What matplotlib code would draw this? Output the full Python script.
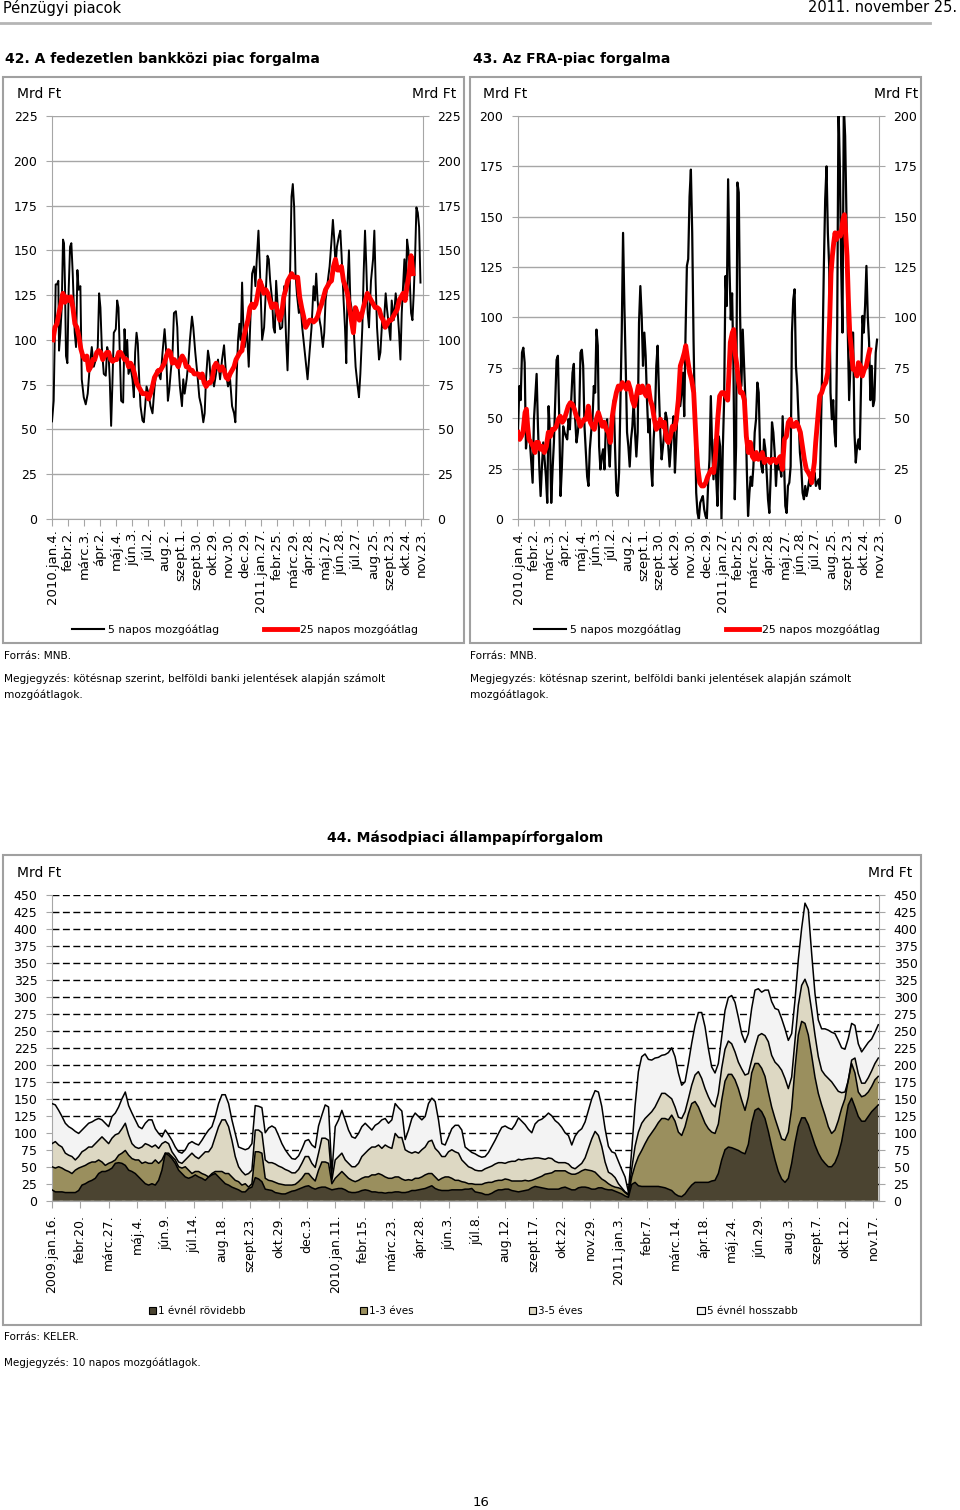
import numpy as np
import matplotlib
matplotlib.use("Agg")
import matplotlib.pyplot as plt
from matplotlib.lines import Line2D
from matplotlib.patches import Patch, Rectangle

plt.rcParams["font.family"] = ["DejaVu Sans"]

W, H = 960, 1510
GREY = "#a6a6a6"

# --- 42. fedezetlen bankközi piac (Mrd Ft) ---
napok_42 = ["2010.jan.4.", "febr.2.", "márc.3.", "ápr.2.", "máj.4.", "jún.3.", "júl.2.",
            "aug.2.", "szept.1.", "szept.30.", "okt.29.", "nov.30.", "dec.29.", "2011.jan.27.",
            "febr.25.", "márc.29.", "ápr.28.", "máj.27.", "jún.28.", "júl.27.", "aug.25.",
            "szept.23.", "okt.24.", "nov.23."]
napok_43 = list(napok_42)

# business-day index of each 5-day MA reading
nap_42_5 = [0, 2.2, 3.5, 4.8, 6.6, 8.3, 9.2, 10.9, 12.7, 14.4,
            15.7, 17, 18.3, 20.1, 21.8, 23.6, 25.3, 27.1, 29.7, 31.4,
            33.2, 34.9, 37.1, 38.9, 41.5, 44.1, 46.7, 49.3, 52, 54.6,
            57.2, 59.8, 61.6, 63.3, 65.1, 67.7, 70.3, 72.1, 73.8, 75.5,
            77.3, 79, 80.8, 83.4, 85.2, 86.9, 88.6, 90.4, 93, 94.8,
            96.5, 98.3, 100, 102.6, 105.2, 107, 108.7, 110.5, 112.2, 114,
            115.7, 118.3, 120.1, 121.8, 123.6, 126.2, 128.8, 131.4, 134.1, 136.7,
            139.3, 141.9, 144.5, 147.2, 148.9, 151.5, 153.3, 155, 157.6, 159.4,
            162, 163.8, 165.5, 167.2, 169.9, 171.6, 173.4, 176, 178.6, 180.3,
            183, 184.7, 187.3, 190, 192.6, 195.2, 197.8, 199.6, 201.3, 203.9,
            205.7, 207.4, 209.2, 211.8, 214.4, 217, 219.7, 222.3, 224.9, 227.5,
            230.1, 232.8, 235.4, 238, 239.7, 241.5, 243.2, 245, 246.7, 248.5,
            250.2, 252, 254.6, 257.2, 259, 261.6, 264.2, 265.9, 267.7, 269.9,
            272, 274.7, 277.3, 279.9, 281.7, 283.4, 285.2, 287.8, 289.5, 291.3,
            293, 295.6, 298.3, 300.9, 303.5, 306.1, 307.9, 309.6, 311.4, 313.1,
            314.8, 316.6, 318.3, 320.1, 322.7, 325.3, 327.1, 329.7, 332.3, 334.1,
            336.7, 339.3, 341.9, 343.7, 345.4, 347.2, 349.8, 351.5, 354.1, 355.9,
            357.6, 360.3, 362.9, 365.5, 367.2, 369, 370.7, 372.5, 375.1, 376.9,
            378.6, 381.2, 383, 384.7, 386.5, 388.2, 390, 392.6, 394.3, 396.9,
            399.6, 401.3, 403.1, 405.7, 407.4, 409.2, 410.9, 412.7, 414.4, 417,
            419.7, 421.4, 423.1, 424.9, 427.5, 429.3, 431.9, 433.6, 436.2, 438,
            440.6, 442.4, 444.1, 446.7, 449.3, 452, 453.7, 455.5, 457.2, 459,
            460.7, 462.4, 464.2, 465.9, 467.7, 469.4, 471.2, 472.9, 474.7, 476.4,
            478.2, 479.9, 481.7]
bankkozi_5 = [54.5, 66, 100, 131, 131, 133, 94, 104, 118, 156,
              154, 130, 91, 87, 128, 152, 154, 137, 104, 96,
              139, 128, 130, 78, 68, 64, 70, 85, 96, 85,
              89, 96, 126, 118, 96, 81, 80, 96, 93, 78,
              52, 76, 104, 106, 122, 118, 93, 66, 65, 106,
              91, 100, 81, 85, 78, 68, 93, 104, 98, 78,
              63, 55, 54, 63, 74, 70, 63, 59, 74, 83,
              81, 78, 93, 106, 96, 66, 72, 81, 93, 115,
              116, 107, 85, 74, 63, 78, 70, 78, 89, 100,
              113, 107, 93, 81, 68, 63, 54, 59, 78, 94,
              89, 78, 81, 74, 81, 89, 78, 89, 97, 81,
              74, 78, 63, 59, 54, 81, 100, 109, 100, 132,
              107, 96, 107, 85, 107, 137, 141, 130, 145, 161,
              137, 100, 107, 130, 147, 145, 133, 122, 107, 104,
              133, 115, 106, 107, 130, 100, 83, 107, 141, 180,
              187, 174, 137, 126, 115, 118, 107, 96, 85, 78,
              93, 107, 130, 122, 137, 122, 111, 107, 96, 104,
              122, 132, 141, 156, 167, 156, 141, 152, 158, 161,
              147, 122, 107, 87, 133, 150, 122, 115, 107, 85,
              74, 68, 81, 107, 137, 161, 141, 115, 107, 133,
              145, 161, 132, 107, 89, 93, 113, 107, 126, 117,
              107, 100, 122, 111, 126, 115, 104, 89, 115, 130,
              145, 126, 156, 150, 133, 115, 111, 126, 147, 174,
              171, 163, 132]
bankkozi_25 = [100, 107, 109, 115, 120, 126, 121, 124, 122, 124,
               118, 109, 107, 102, 95, 91, 89, 91, 83, 85,
               89, 89, 93, 94, 93, 89, 91, 93, 93, 89,
               88, 89, 89, 93, 93, 91, 89, 89, 85, 87,
               85, 81, 76, 74, 72, 70, 70, 70, 67, 70,
               74, 79, 81, 83, 83, 85, 87, 91, 94, 93,
               87, 89, 87, 85, 89, 91, 89, 85, 85, 83,
               83, 81, 81, 81, 79, 81, 76, 74, 76, 76,
               78, 85, 87, 85, 83, 85, 83, 79, 78, 81,
               83, 85, 89, 91, 93, 94, 102, 107, 111, 118,
               120, 118, 120, 126, 133, 130, 126, 128, 126, 122,
               118, 120, 120, 115, 111, 115, 124, 128, 133, 135,
               137, 135, 135, 135, 124, 118, 113, 107, 109, 111,
               111, 110, 111, 113, 117, 120, 124, 128, 130, 132,
               133, 141, 145, 139, 139, 141, 133, 130, 126, 118,
               111, 104, 118, 115, 111, 113, 118, 122, 126, 124,
               122, 120, 118, 118, 117, 113, 111, 107, 109, 111,
               111, 113, 115, 117, 122, 124, 126, 122, 130, 137,
               147, 137]

# --- 43. FRA-piac (Mrd Ft) ---
fra_5 = [44.5, 66, 59, 82.6, 85, 77.6, 35, 43, 39.5, 38,
         28, 18, 49.5, 61, 72, 46, 26, 11.4, 26, 38,
         29.6, 21, 8, 56, 43, 8, 24.6, 38, 59, 79,
         81, 51, 11.4, 26, 46, 43, 41, 39.5, 49.5, 44.5,
         59, 72.6, 77, 49.5, 38, 43, 51, 82.6, 84, 76,
         46, 33, 21, 16.4, 34.6, 43, 49.5, 66, 62.7, 94,
         86, 36, 24.6, 31, 34.6, 24.6, 44.5, 49.5, 36, 26,
         43, 51, 59, 34.6, 13, 11.4, 23, 59, 92.5, 142,
         105.7, 76, 43, 36, 26, 39.5, 46, 59, 43, 31,
         43, 97.5, 115.6, 100.8, 76, 92.5, 81, 59, 43, 49.5,
         26, 16.4, 39.5, 51, 76, 86, 62.7, 43, 29.6, 36,
         43, 52.8, 49.5, 36, 26, 36, 44.5, 51, 23, 38,
         56, 62.7, 56, 62.7, 72.6, 51, 92.5, 125.6, 129, 160,
         173.4, 142, 89, 49.5, 13, 3, 0, 8, 9.8, 11.4,
         4.8, 1.5, 0, 18, 29.6, 61, 34.6, 19.7, 39.5, 21,
         6.5, 41, 36, 0, 34.6, 59, 120.6, 105.7, 168.6, 125.6,
         99, 112, 76, 9.8, 36, 167, 162, 102, 66, 94,
         76, 59, 26, 1.5, 13, 21, 16.4, 26, 43, 49.5,
         67.7, 62.7, 34.6, 26, 23, 39.5, 34.6, 23, 9.8, 3,
         21, 48, 43, 33, 16.4, 29.6, 24.6, 26, 21, 51,
         29.6, 6.5, 3, 16.4, 18, 26, 92.5, 109, 114, 76,
         66, 49.5, 33, 26, 13, 9.8, 16.4, 11.4, 14.9, 19.7,
         16.4, 21, 19.7, 23, 16.4, 18, 19.7, 14.9, 51, 84,
         125.6, 158.7, 175, 142, 125.6, 62.7, 49.5, 59, 43, 36,
         92.5, 205, 175, 125.6, 92.5, 205, 190, 150, 92.5, 59,
         76, 92.5, 92.5, 43, 28, 36, 39.5, 34.6, 69, 100.8,
         92.5, 105.7, 125.6, 100.8, 87.7, 59, 76, 56, 59, 82.6,
         89]
nap_43_25 = [0, 2.2, 4.5, 6.7, 9.4, 11.2, 12.9, 14.7, 17.4, 20.1,
             22.7, 24.5, 27.2, 29.9, 32.6, 35.2, 37.9, 40.6, 43.3, 45.9,
             48.6, 51.3, 54, 56.6, 59.3, 62, 64.7, 67.3, 70, 72.7,
             75.4, 78.1, 80.7, 83.4, 86.1, 88.8, 91.4, 94.1, 96.8, 99.5,
             102.1, 104.8, 107.5, 110.2, 112.8, 115.5, 118.2, 120.9, 123.5, 126.2,
             128.9, 131.6, 134.3, 136.9, 139.6, 142.3, 145, 147.6, 150.3, 153,
             155.7, 158.3, 161, 163.7, 166.4, 169, 171.7, 174.4, 177.1, 179.7,
             182.4, 185.1, 187.8, 190.5, 193.1, 195.8, 198.5, 201.2, 203.8, 206.5,
             209.2, 211.9, 214.5, 217.2, 219.9, 222.6, 224.4, 227, 229.7, 232.4,
             235.1, 236.8, 238.6, 240.4, 243.1, 245.8, 248.4, 251.1, 253.8, 256.5,
             259.1, 261.8, 264.5, 267.2, 269.8, 272.5, 275.2, 277.9, 280.6, 282.3,
             284.1, 286.8, 288.6, 290.4, 293, 294.8, 297.5, 300.2, 302.9, 305.5,
             308.2, 310.9, 313.6, 316.2, 318.9, 321.6, 324.3, 326.9, 329.6, 332.3,
             335, 337.6, 340.3, 343, 345.7, 348.3, 351, 353.7, 356.4, 359.1,
             361.7, 364.4, 367.1, 369.8, 372.4, 375.1, 377.8, 380.5, 383.1, 385.8,
             388.5, 391.2, 392.9, 394.7, 396.5, 398.3, 401, 403.7, 406.3, 409,
             411.7, 414.4, 417, 418.8, 420.6, 422.4, 424.2, 426, 428.6, 431.3,
             433.1, 434.9, 436.7, 438.4, 440.2, 442, 443.8, 446.5, 448.2, 450.9,
             453.6, 455.4, 458.1, 460.7, 463.4, 466.1, 468.8, 470.6]
fra_25 = [43, 39.5, 41, 43, 52.8, 54.5, 46, 39.5, 38, 36,
          33, 38, 38, 34.6, 36, 33, 36, 43, 41, 44.5,
          44.5, 46, 49.5, 51, 48, 49.5, 52.8, 56, 57.7, 57,
          54.5, 51, 49.5, 46, 48, 49.5, 49.5, 56, 48, 46,
          44.5, 49.5, 52.8, 49.5, 46, 48, 44.5, 43, 38, 51,
          57.7, 62.7, 66, 64.4, 67.7, 66, 64.4, 67.7, 64.4, 59,
          56, 61, 66, 62.7, 66, 62.7, 61, 66, 59, 56,
          49.5, 44.5, 46, 49.5, 46, 48, 39.5, 38, 41, 46,
          44.5, 49.5, 59, 76, 79, 82.6, 86, 79, 72.6, 69,
          62.7, 49.5, 36, 26, 18, 16.4, 16.4, 18, 21, 23,
          24.6, 23, 33, 49.5, 61, 62.7, 62.7, 61, 59, 72.6,
          87.7, 92.5, 94, 82.6, 76, 69, 62.7, 62.7, 59, 41,
          33, 38, 31, 29.6, 33, 29.6, 31, 33, 28, 29.6,
          29.6, 28, 29.6, 29.6, 28, 29.6, 31, 24.6, 39.5, 41,
          48, 49.5, 46, 46, 48, 46, 43, 36, 29.6, 24.6,
          23, 21, 18, 23, 28, 38, 49.5, 61, 62.7, 66,
          67.7, 72.6, 99, 122, 130.5, 137, 142, 138.7, 142, 140.4,
          144, 148.8, 151, 142, 130.5, 109, 92.5, 82.6, 74.3, 74.3,
          71, 77.6, 76, 71, 74.3, 76, 81, 84]

# --- 44. másodpiaci állampapírforgalom, cumulative levels (Mrd Ft) ---
datumok_44 = ["2009.jan.16.", "febr.20.", "márc.27.", "máj.4.", "jún.9.", "júl.14.", "aug.18.",
              "szept.23.", "okt.29.", "dec.3.", "2010.jan.11.", "febr.15.", "márc.23.", "ápr.28.",
              "jún.3.", "júl.8.", "aug.12.", "szept.17.", "okt.22.", "nov.29.", "2011.jan.3.",
              "febr.7.", "márc.14.", "ápr.18.", "máj.24.", "jún.29.", "aug.3.", "szept.7.",
              "okt.12.", "nov.17."]
szint_1ev = [16, 13, 13, 13, 12, 12, 12, 12, 15, 23, 25, 28, 30, 33, 40, 43, 43, 45, 48, 55,
             56, 55, 52, 45, 43, 40, 35, 30, 25, 23, 25, 23, 30, 45, 70, 67, 62, 55, 45, 40,
             35, 33, 35, 38, 35, 33, 30, 35, 38, 40, 35, 30, 25, 23, 20, 18, 16, 13, 13, 18,
             20, 34, 32, 28,
             17, 16, 15, 12, 11, 10, 10, 12, 14, 15, 17, 19, 21, 22, 19, 17, 19, 20, 20, 18,
             16, 17, 18, 18, 16, 13, 12, 12, 13, 15, 16, 15, 13, 13, 12, 12, 11, 12, 12, 13,
             13, 12, 12, 13, 15, 15, 16, 17, 18, 20, 22, 18, 16, 15, 15, 15, 16, 16, 16, 16,
             17, 17, 18,
             13, 12, 11, 9, 9, 11, 14, 16, 16, 17, 17, 15, 14, 13, 14, 15, 16, 19, 21, 20,
             19, 18, 17, 17, 17, 17, 19, 20, 18, 16, 16, 19, 20, 20, 19, 17, 17, 19, 19, 17,
             16, 16, 14, 12, 10, 7, 5, 24, 27, 22, 21, 21, 21, 21, 21, 21, 20, 19, 17,
             15, 10, 7, 6, 10, 17, 23, 27, 27, 27, 27, 27, 29, 30, 40, 60, 75, 79, 78, 76,
             74, 71, 69, 83, 114, 133, 136, 131, 121, 102, 80, 60, 43, 32, 27, 33, 55, 85, 109, 122,
             122, 112, 97, 82, 70, 61, 55, 50, 50, 56, 68, 87, 114, 141, 151, 138, 124, 117, 117, 124,
             131, 136, 141]
szint_3ev = [50, 48, 50, 48, 45, 43, 40, 45, 48, 50, 52, 55, 57, 57, 60, 57, 52, 55, 57, 60,
             67, 70, 74, 67, 62, 60, 60, 55, 57, 55, 55, 60, 55, 60, 70, 70, 65, 60, 50, 48,
             50, 45, 40, 43, 43, 40, 38, 35, 40, 43, 43, 43, 40, 40, 35, 30, 28, 23, 25, 20,
             25, 72, 72, 70,
             33, 30, 29, 27, 25, 24, 23, 23, 23, 24, 28, 33, 40, 40, 34, 29, 45, 57, 57, 55,
             25, 33, 38, 43, 38, 33, 30, 28, 30, 33, 35, 35, 38, 38, 40, 38, 35, 33, 33, 35,
             35, 32, 30, 31, 30, 33, 33, 35, 38, 40, 40, 35, 30, 33, 35, 35, 33, 30, 30, 28,
             27, 25, 25,
             24, 24, 24, 26, 27, 27, 29, 30, 30, 32, 31, 29, 29, 29, 29, 30, 29, 30, 32, 34,
             36, 39, 40, 41, 44, 44, 44, 44, 41, 39, 39, 41, 44, 46, 45, 44, 42, 37, 32, 29,
             25, 22, 20, 19, 17, 12, 8, 35, 52, 65, 74, 84, 93, 100, 107, 115, 121, 121, 119,
             126, 117, 101, 96, 109, 128, 143, 146, 138, 126, 114, 106, 101, 99, 113, 148, 176, 186, 186, 178,
             165, 148, 133, 153, 188, 202, 202, 195, 183, 160, 138, 121, 106, 91, 89, 101, 136, 195, 244, 264,
             261, 244, 214, 182, 158, 141, 126, 109, 99, 104, 118, 136, 150, 178, 202, 188, 160, 153, 155, 160,
             168, 178, 183]
szint_5ev = [84, 87, 82, 79, 70, 67, 65, 60, 65, 72, 75, 79, 79, 84, 89, 94, 89, 84, 92, 97,
             99, 106, 114, 97, 84, 79, 77, 79, 84, 82, 79, 82, 77, 84, 87, 84, 72, 65, 57, 55,
             60, 65, 70, 65, 62, 67, 72, 72, 79, 94, 109, 119, 119, 109, 89, 65, 50, 43, 38, 40,
             45, 104, 104, 100,
             60, 56, 56, 54, 51, 49, 46, 44, 41, 41, 46, 55, 65, 65, 55, 49, 70, 92, 92, 89,
             30, 60, 65, 70, 60, 55, 50, 50, 55, 65, 70, 75, 79, 79, 82, 77, 82, 79, 77, 99,
             93, 93, 75, 72, 70, 72, 70, 75, 79, 87, 89, 77, 72, 65, 65, 72, 75, 72, 70, 60,
             55, 50, 48,
             45, 44, 44, 47, 49, 51, 54, 56, 56, 55, 57, 58, 58, 61, 60, 61, 62, 62, 63, 63,
             62, 61, 63, 62, 58, 56, 56, 56, 54, 49, 47, 51, 55, 63, 77, 91, 102, 96, 80, 57,
             42, 39, 34, 25, 19, 13, 10, 47, 80, 101, 114, 121, 126, 131, 138, 148, 158, 158, 154,
             150, 138, 123, 121, 131, 150, 170, 185, 190, 180, 165, 153, 143, 138, 158, 195, 223, 235, 231, 219,
             204, 194, 185, 187, 207, 226, 243, 246, 243, 234, 214, 204, 199, 192, 180, 165, 182, 236, 288, 317,
             326, 313, 280, 244, 212, 192, 185, 180, 175, 168, 161, 159, 160, 177, 207, 210, 187, 173, 173, 181,
             191, 202, 210]
szint_osszes = [143, 141, 133, 124, 114, 109, 106, 102, 99, 104, 109, 114, 116, 119, 121, 119, 114, 109, 124, 129,
                138, 150, 160, 140, 129, 119, 109, 106, 114, 119, 119, 106, 99, 94, 104, 97, 89, 79, 72, 70,
                75, 84, 87, 84, 82, 89, 97, 104, 109, 124, 143, 156, 156, 143, 119, 99, 79, 77, 75, 77,
                84, 140, 139, 137,
                100, 107, 110, 107, 96, 84, 75, 68, 62, 61, 66, 76, 88, 90, 82, 78, 110, 126, 141, 138,
                40, 109, 119, 133, 119, 104, 94, 92, 99, 109, 114, 109, 104, 111, 114, 119, 121, 114, 119, 143,
                137, 132, 90, 104, 121, 129, 124, 119, 124, 143, 151, 146, 119, 84, 82, 94, 106, 111, 111, 104,
                79, 75, 71,
                69, 66, 64, 65, 71, 80, 89, 99, 108, 110, 107, 105, 112, 122, 117, 112, 105, 100, 113, 118,
                120, 124, 129, 125, 118, 114, 108, 100, 96, 82, 95, 102, 106, 116, 133, 150, 162, 160, 139, 106,
                80, 72, 70, 58, 46, 35, 13, 75, 140, 190, 212, 216, 208, 207, 210, 211, 214, 215, 218,
                225, 212, 188, 170, 175, 202, 232, 258, 277, 277, 256, 224, 197, 188, 202, 241, 280, 299, 302, 292,
                270, 246, 233, 246, 283, 310, 312, 307, 310, 310, 293, 283, 281, 268, 253, 236, 246, 295, 355, 401,
                438, 428, 364, 305, 266, 253, 253, 251, 248, 246, 236, 225, 223, 239, 261, 258, 231, 219, 226, 233,
                238, 248, 259]
lejarat_cimkek = ["1 évnél rövidebb", "1-3 éves", "3-5 éves", "5 évnél hosszabb"]
lejarat_szinek = ["#4b4431", "#9a8f5e", "#ddd8c3", "#f3f3f3"]


def fx(x):
    return x / W


def fy(y):
    return 1 - y / H


def axes_px(fig, left, top, right, bottom):
    return fig.add_axes([fx(left), fy(bottom), (right - left) / W, (bottom - top) / H])


def frame(fig, left, top, right, bottom):
    fig.add_artist(Rectangle((fx(left), fy(bottom)), (right - left) / W, (bottom - top) / H,
                             transform=fig.transFigure, fill=False, edgecolor="#a0a0a0", lw=1.5))


def style_axes(ax, ymax, xmax, labels, step, grid_kw, ylabsize=9, xlabsize=9.5, xpad=2):
    ax.set_xlim(0, xmax)
    ax.set_ylim(0, ymax)
    ax.set_yticks(np.arange(0, ymax + 1, 25))
    ax.set_xticks(np.arange(len(labels)) * step)
    ax.set_xticklabels(labels, rotation=90, fontsize=xlabsize)
    ax.yaxis.grid(True, **grid_kw)
    ax.set_axisbelow(True)
    ax.spines["top"].set_visible(False)
    for s in ("left", "right", "bottom"):
        ax.spines[s].set_color(GREY)
    ax.tick_params(axis="y", left=True, right=True, labelleft=True, labelright=True,
                   length=4, color=GREY, labelsize=ylabsize, pad=6.5)
    ax.tick_params(axis="x", length=5, color=GREY, pad=xpad)


fig = plt.figure(figsize=(W / 100, H / 100), dpi=100)

# header
fig.text(fx(3), fy(8), "Pénzügyi piacok", fontsize=10.5, va="center")
fig.text(fx(957), fy(8), "2011. november 25.", fontsize=10.5, va="center", ha="right")
fig.add_artist(Line2D([0, fx(930)], [fy(23), fy(23)], color="#b5b5b5", lw=2,
                      transform=fig.transFigure))

line_grid = dict(color=GREY, lw=1)
legend_kw = dict(loc="center", ncol=2, frameon=False, fontsize=7.8, handlelength=3.0,
                 handletextpad=0.3, columnspacing=4.2)
ma_labels = ["5 napos mozgóátlag", "25 napos mozgóátlag"]
ma_handles = [Line2D([], [], color="black", lw=1.5), Line2D([], [], color="#ff0000", lw=3.5)]
notes = ["Forrás: MNB.", "Megjegyzés: kötésnap szerint, belföldi banki jelentések alapján számolt",
         "mozgóátlagok."]

# 42
fig.text(fx(5), fy(59), "42. A fedezetlen bankközi piac forgalma", fontsize=10,
         fontweight="bold", va="center")
frame(fig, 3, 77, 464, 643)
fig.text(fx(17), fy(94), "Mrd Ft", fontsize=10, va="center")
fig.text(fx(456), fy(94), "Mrd Ft", fontsize=10, va="center", ha="right")
ax1 = axes_px(fig, 52, 116, 423, 519)
style_axes(ax1, 225, 485, napok_42, 21, line_grid)
ax1.plot(nap_42_5, bankkozi_5, color="black", lw=1.4, zorder=3)
ax1.plot(np.linspace(1.3, 472, len(bankkozi_25)), bankkozi_25, color="#ff0000", lw=3.5,
         zorder=4, solid_joinstyle="round")
fig.legend(ma_handles, ma_labels, bbox_to_anchor=(fx(245), fy(630)), **legend_kw)
for y, t in zip((656, 679, 695), notes):
    fig.text(fx(4), fy(y), t, fontsize=7.6, va="center")

# 43
fig.text(fx(473), fy(59), "43. Az FRA-piac forgalma", fontsize=10, fontweight="bold", va="center")
frame(fig, 470, 77, 921, 643)
fig.text(fx(483), fy(94), "Mrd Ft", fontsize=10, va="center")
fig.text(fx(918), fy(94), "Mrd Ft", fontsize=10, va="center", ha="right")
ax2 = axes_px(fig, 518, 116, 879, 519)
style_axes(ax2, 200, 483, napok_43, 21, line_grid)
ax2.plot(np.linspace(0, 480.4, len(fra_5)), fra_5, color="black", lw=1.6, zorder=3)
ax2.plot(nap_43_25, fra_25, color="#ff0000", lw=3.5, zorder=4, solid_joinstyle="round")
fig.legend(ma_handles, ma_labels, bbox_to_anchor=(fx(707), fy(630)), **legend_kw)
for y, t in zip((656, 679, 695), notes):
    fig.text(fx(470), fy(y), t, fontsize=7.6, va="center")

# 44
fig.text(fx(465), fy(838), "44. Másodpiaci állampapírforgalom", fontsize=10,
         fontweight="bold", va="center", ha="center")
frame(fig, 3, 855, 921, 1325)
fig.text(fx(17), fy(873), "Mrd Ft", fontsize=10, va="center")
fig.text(fx(912), fy(873), "Mrd Ft", fontsize=10, va="center", ha="right")
ax3 = axes_px(fig, 52, 895, 879, 1200.7)
style_axes(ax3, 450, 730, datumok_44, 25,
           dict(color="black", lw=1, linestyle=(0, (5, 2.5))), ylabsize=9, xlabsize=9, xpad=5)
x44 = np.arange(len(szint_osszes)) * 2.941
levels = [np.zeros(len(szint_osszes)), szint_1ev, szint_3ev, szint_5ev, szint_osszes]
for lo, hi, c in zip(levels[:-1], levels[1:], lejarat_szinek):
    ax3.fill_between(x44, lo, hi, facecolor=c, edgecolor="none", zorder=2)
for lvl in levels[1:]:
    ax3.plot(x44, lvl, color="black", lw=1.1, zorder=3)
fig.legend([Patch(facecolor=c, edgecolor="black", lw=0.8) for c in lejarat_szinek], lejarat_cimkek,
           loc="center", bbox_to_anchor=(fx(473), fy(1311)), ncol=4, frameon=False, fontsize=7.5,
           handlelength=0.7, handleheight=0.7, handletextpad=0.2, columnspacing=11)
fig.text(fx(4), fy(1337), "Forrás: KELER.", fontsize=7.5, va="center")
fig.text(fx(4), fy(1363), "Megjegyzés: 10 napos mozgóátlagok.", fontsize=7.5, va="center")

fig.text(fx(481), fy(1502), "16", fontsize=9.5, va="center", ha="center")

fig.savefig("out.png", dpi=100)
